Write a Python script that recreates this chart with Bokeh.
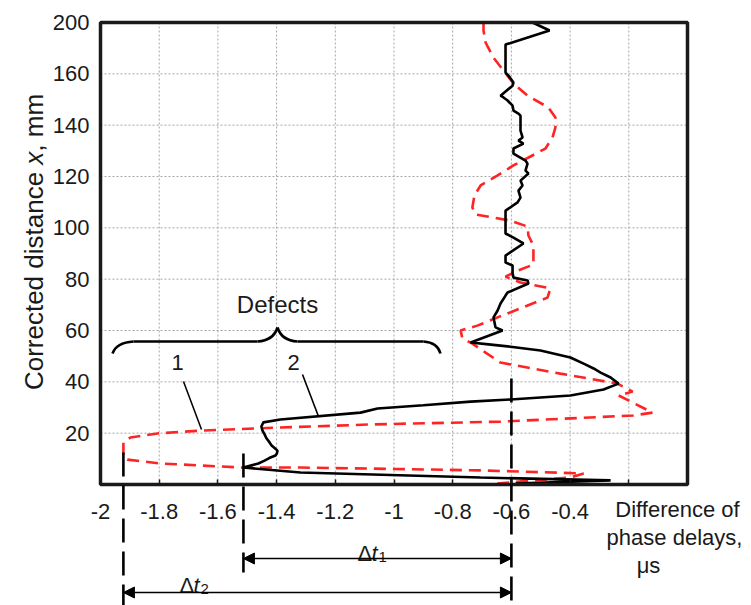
import math
from bokeh.plotting import figure
from bokeh.models import Range1d, FixedTicker, LinearAxis, Arrow, NormalHead
from bokeh.core.properties import value
from bokeh.embed import file_html
from bokeh.resources import INLINE

# ---------------- data ----------------
# curve 1 (red, dashed): difference of phase delays vs corrected distance
curve1_y = [180.0, 176.9, 172.2, 166.3, 161.3, 156.2, 151.5, 146.9, 143.0, 139.1,
            135.2, 130.9, 127.8, 124.3, 120.4, 116.5, 112.6, 107.9, 105.2, 104.0,
            102.8, 100.5, 97.0, 93.1, 88.0, 85.7, 83.4, 81.0, 78.7, 76.4,
            72.8, 65.1, 61.9, 60.0, 56.9, 54.9, 51.4, 47.5, 43.2, 39.3,
            36.2, 34.7, 28.0, 26.9, 24.5, 23.4, 22.2, 21.0, 19.9, 18.3,
            16.4, 10.5, 9.7, 8.2, 7.4, 6.6, 6.6, 6.2, 5.5, 4.3,
            2.7, 1.2, 0.0]
curve1_x = [-0.695, -0.695, -0.688, -0.661, -0.627, -0.593, -0.545, -0.474, -0.450, -0.450,
            -0.460, -0.484, -0.535, -0.593, -0.647, -0.705, -0.726, -0.733, -0.722, -0.661,
            -0.603, -0.545, -0.542, -0.525, -0.525, -0.525, -0.576, -0.620, -0.569, -0.467,
            -0.477, -0.647, -0.716, -0.773, -0.767, -0.733, -0.688, -0.637, -0.433, -0.239,
            -0.187, -0.235, -0.119, -0.184, -0.637, -1.080, -1.387, -1.659, -1.806, -1.898,
            -1.922, -1.922, -1.908, -1.796, -1.659, -1.513, -1.319, -1.080, -0.705, -0.354,
            -0.399, -0.569, -0.681]

# curve 2 (black, solid)
curve2_y = [180.0, 176.9, 171.4, 160.5, 159.3, 156.6, 155.4, 151.5, 150.8, 149.6,
            147.6, 145.7, 144.5, 143.7, 137.9, 135.2, 134.0, 132.8, 130.9, 128.9,
            126.2, 125.0, 122.3, 121.2, 118.4, 116.5, 114.5, 111.8, 109.9, 106.7,
            97.8, 96.2, 93.9, 89.2, 86.5, 85.3, 82.6, 80.6, 79.5, 78.3,
            74.8, 73.6, 70.5, 67.8, 65.1, 61.2, 60.0, 55.3, 54.5, 53.7,
            52.2, 49.5, 47.0, 45.2, 43.6, 41.7, 39.3, 37.0, 34.7, 33.1,
            32.3, 30.9, 29.6, 28.0, 25.3, 24.2, 22.6, 21.0, 19.5, 17.9,
            16.4, 15.2, 14.0, 13.2, 12.1, 11.3, 10.3, 9.3, 8.2, 6.6,
            4.7, 2.7, 1.6, 0.4]
curve2_x = [-0.528, -0.470, -0.620, -0.620, -0.610, -0.593, -0.596, -0.637, -0.627, -0.613,
            -0.596, -0.593, -0.576, -0.569, -0.569, -0.562, -0.576, -0.559, -0.593, -0.593,
            -0.552, -0.545, -0.552, -0.542, -0.569, -0.562, -0.576, -0.569, -0.579, -0.620,
            -0.620, -0.593, -0.559, -0.620, -0.620, -0.596, -0.596, -0.593, -0.545, -0.542,
            -0.613, -0.620, -0.637, -0.647, -0.661, -0.654, -0.630, -0.739, -0.670, -0.603,
            -0.501, -0.399, -0.352, -0.320, -0.296, -0.262, -0.235, -0.286, -0.399, -0.603,
            -0.739, -0.900, -1.056, -1.114, -1.387, -1.445, -1.452, -1.448, -1.441, -1.434,
            -1.424, -1.417, -1.405, -1.397, -1.399, -1.404, -1.425, -1.441, -1.462, -1.513,
            -1.319, -0.705, -0.262, -0.586]

x_ticks = [-2.0, -1.8, -1.6, -1.4, -1.2, -1.0, -0.8, -0.6, -0.4, -0.2]
x_tick_labels = ["-2", "-1.8", "-1.6", "-1.4", "-1.2", "-1", "-0.8", "-0.6", "-0.4", ""]
y_ticks = [20, 40, 60, 80, 100, 120, 140, 160, 180]
y_tick_labels = ["20", "40", "60", "80", "100", "120", "140", "160", "200"]

x_min, x_max = -2.0, 0.0
y_min, y_max = 0.0, 180.0
t_ref = -0.6                 # reference delay (right dashed line)
t1 = min(curve2_x)           # extreme of curve 2
t2 = min(curve1_x)           # extreme of curve 1

# ---------------- layout ----------------
W, H = 751, 605
OFF = 0                       # the Bokeh page template has no body margin
BL, BR, BT, BB = 100, 687, 22, 484   # canvas px of the data box
SX = (BR - BL) / (x_max - x_min)
SY = (BB - BT) / (y_max - y_min)


def X(wx):   # window px -> data x
    return x_min + (wx - OFF - BL) / SX


def Y(wy):   # window px -> data y
    return y_min + (BB - (wy - OFF)) / SY


x_range = Range1d(x_min - BL / SX, x_max + (W - BR) / SX)
y_range = Range1d(y_min - (H - BB) / SY, y_max + BT / SY)

FONT = value("Liberation Sans")
INK = "#1a1a1a"

p = figure(width=W, height=H, output_backend="svg", toolbar_location=None,
           x_range=x_range, y_range=y_range, x_axis_location=None, y_axis_location=None,
           min_border=0, outline_line_color=None, background_fill_color="white")
p.grid.visible = False

# grid lines (inside the box only)
gx = [t for t in x_ticks if x_min < t < x_max]
gy = [t for t in y_ticks if y_min < t < y_max]
p.segment(x0=gx, y0=[y_min] * len(gx), x1=gx, y1=[y_max] * len(gx),
          line_color="#9c9c9c", line_width=0.9, line_dash="2 2")
p.segment(x0=[x_min] * len(gy), y0=gy, x1=[x_max] * len(gy), y1=gy,
          line_color="#9c9c9c", line_width=0.9, line_dash="2 2")

# axes
xax = LinearAxis(ticker=FixedTicker(ticks=x_ticks), fixed_location=y_min)
xax.major_label_overrides = dict(zip(x_ticks, x_tick_labels))
xax.axis_line_color = None
xax.major_tick_in = 5
xax.major_tick_out = 0
xax.major_tick_line_width = 1.5
xax.major_tick_line_color = INK
xax.minor_tick_line_color = None
xax.major_label_standoff = 19
xax.major_label_text_font = "Liberation Sans"
xax.major_label_text_font_size = "22px"
xax.major_label_text_color = INK
p.add_layout(xax, "below")

yax = LinearAxis(ticker=FixedTicker(ticks=y_ticks), fixed_location=x_min)
yax.major_label_overrides = dict(zip(y_ticks, y_tick_labels))
yax.axis_line_color = None
yax.major_tick_line_color = None
yax.minor_tick_line_color = None
yax.major_tick_in = 0
yax.major_tick_out = 0
yax.major_label_standoff = 11
yax.major_label_text_font = "Liberation Sans"
yax.major_label_text_font_size = "22px"
yax.major_label_text_color = INK
p.add_layout(yax, "left")

# curves
p.line(curve1_x, curve1_y, line_color="#ff2424", line_width=2.6, line_dash="12 7")
p.line(curve2_x, curve2_y, line_color="black", line_width=2.6)

# box border
p.quad(left=[x_min], right=[x_max], bottom=[y_min], top=[y_max],
       fill_color=None, line_color=INK, line_width=3.5)

# vertical dashed marker lines
p.segment(x0=[t2, t1, t_ref], x1=[t2, t1, t_ref],
          y0=[Y(452), Y(453), Y(378)], y1=[y_range.start, Y(572), y_range.start],
          line_color="black", line_width=2.6, line_dash="24 9")

# arrows
for ya, xs in ((Y(558), t1), (Y(592), t2)):
    p.add_layout(Arrow(start=NormalHead(size=11, fill_color="black", line_color="black"),
                       end=NormalHead(size=11, fill_color="black", line_color="black"),
                       x_start=xs, y_start=ya, x_end=t_ref, y_end=ya,
                       line_color="black", line_width=1.3))

# delta labels: Δ + italic t + subscript
for (lx, bl, sub) in ((357, 553, "1"), (179, 585, "2")):
    p.text(x=[X(lx)], y=[Y(bl)], text=["Δ"], text_font=FONT, text_font_size="22px",
           text_color=INK, text_align="left", text_baseline="alphabetic")
    p.text(x=[X(lx + 14)], y=[Y(bl)], text=["t"], text_font=FONT, text_font_size="22px",
           text_font_style="italic", text_color=INK, text_align="left", text_baseline="alphabetic")
    p.text(x=[X(lx + 21)], y=[Y(bl + 3)], text=[sub], text_font=FONT, text_font_size="15px",
           text_color=INK, text_align="left", text_baseline="alphabetic")

# brace "Defects"
p.quadratic(x0=[X(112), X(257), X(277), X(423)], y0=[Y(353), Y(341), Y(327), Y(341)],
            x1=[X(133), X(277), X(297), X(440)], y1=[Y(341), Y(327), Y(341), Y(353)],
            cx=[X(116), X(273), X(281), X(437)], cy=[Y(342), Y(340), Y(340), Y(342)],
            line_color="black", line_width=2.6)
p.segment(x0=[X(133), X(297)], y0=[Y(341), Y(341)], x1=[X(257), X(423)], y1=[Y(341), Y(341)],
          line_color="black", line_width=2.6)
p.text(x=[X(277)], y=[Y(304)], text=["Defects"], text_font=FONT, text_font_size="24px",
       text_color=INK, text_align="center", text_baseline="middle")

# curve numbers and leaders
p.text(x=[X(177), X(293)], y=[Y(362), Y(362)], text=["1", "2"], text_font=FONT,
       text_font_size="22px", text_color=INK, text_align="center", text_baseline="middle")
p.segment(x0=[X(183), X(302)], y0=[Y(381), Y(374)], x1=[X(201), X(318)], y1=[Y(429), Y(416)],
          line_color="black", line_width=1.6)

# x-axis title at right
p.text(x=[X(677), X(674), X(648)], y=[Y(509), Y(537), Y(565)],
       text=["Difference of", "phase delays,", "μs"], text_font=FONT, text_font_size="22px",
       text_color=INK, text_align="center", text_baseline="middle")

# y-axis title (rotated, italic x)
F = 26
start = 241.5 + 11.392 * F / 2
parts = (("Corrected distance ", 0.0, "normal"), ("x", 8.67, "italic"), (", mm", 9.17, "normal"))
for txt, em, style in parts:
    p.text(x=[X(33)], y=[Y(start - em * F)], text=[txt], angle=math.pi / 2,
           text_font=FONT, text_font_size=f"{F}px", text_font_style=style,
           text_color=INK, text_align="left", text_baseline="alphabetic")

open("out.html", "w").write(file_html(p, INLINE))
